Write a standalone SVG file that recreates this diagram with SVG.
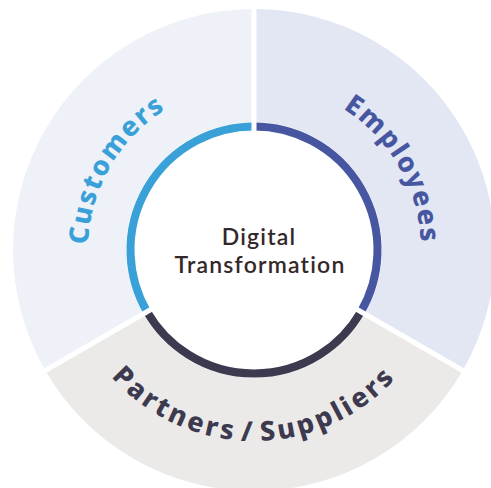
<svg xmlns="http://www.w3.org/2000/svg" width="491" height="488" viewBox="0 0 491 488">
<style>
.lbl{font-family:"Noto Sans","Open Sans",sans-serif;font-weight:800;font-size:27px;letter-spacing:1.8px}
.lblp{letter-spacing:3.1px;word-spacing:-5px}
.ctr{font-family:Lato,"Noto Sans",sans-serif;font-weight:600;font-size:23px;letter-spacing:1.2px;fill:#35282a;text-anchor:middle}
.ring{fill:none;stroke-width:8}
.gap{stroke:#ffffff;stroke-width:5}
</style>
<defs>
<path id="pCust" d="M110.24,333 A166,166 0 0 1 254,84"/>
<path id="pEmp" d="M254,83 A167,167 0 0 1 398.63,333.5"/>
<path id="pPart" d="M88.59,345.5 A191,191 0 0 0 419.41,345.5"/>
</defs>
<rect width="491" height="488" fill="#ffffff"/>
<g id="customers">
<path d="M254,250 L254,9 A241,241 0 0 0 45.29,370.5 Z" fill="#eef2f8"/>
</g>
<g id="employees">
<path d="M254,250 L254,9 A241,241 0 0 1 462.71,370.5 Z" fill="#e3e7f3"/>
</g>
<g id="partners">
<path d="M254,250 L45.29,370.5 A241,241 0 0 0 462.71,370.5 Z" fill="#ebeae8"/>
</g>
<g id="center">
<circle cx="254" cy="250" r="128" fill="#ffffff"/>
<path class="ring" d="M254,126.5 A123.5,123.5 0 0 0 147.05,311.75" stroke="#3aa0d8"/>
<path class="ring" d="M254,126.5 A123.5,123.5 0 0 1 360.95,311.75" stroke="#4756a0"/>
<path class="ring" d="M147.05,311.75 A123.5,123.5 0 0 0 360.95,311.75" stroke="#3d3a50"/>
</g>
<g id="connectors">
<line class="gap" x1="254" y1="250" x2="254" y2="0"/>
<line class="gap" x1="254" y1="250" x2="28.8" y2="380"/>
<line class="gap" x1="254" y1="250" x2="479.2" y2="380"/>
</g>
<g id="labels">
<text class="lbl" fill="#3aa0d8"><textPath href="#pCust" startOffset="50%" text-anchor="middle">Customers</textPath></text>
<text class="lbl" fill="#4756a0"><textPath href="#pEmp" startOffset="50%" text-anchor="middle">Employees</textPath></text>
<text class="lbl lblp" fill="#3d3a50"><textPath href="#pPart" startOffset="50%" text-anchor="middle">Partners / Suppliers</textPath></text>
<text class="ctr"><tspan x="259" y="245">Digital</tspan><tspan x="260" y="273">Transformation</tspan></text>
</g>
</svg>
